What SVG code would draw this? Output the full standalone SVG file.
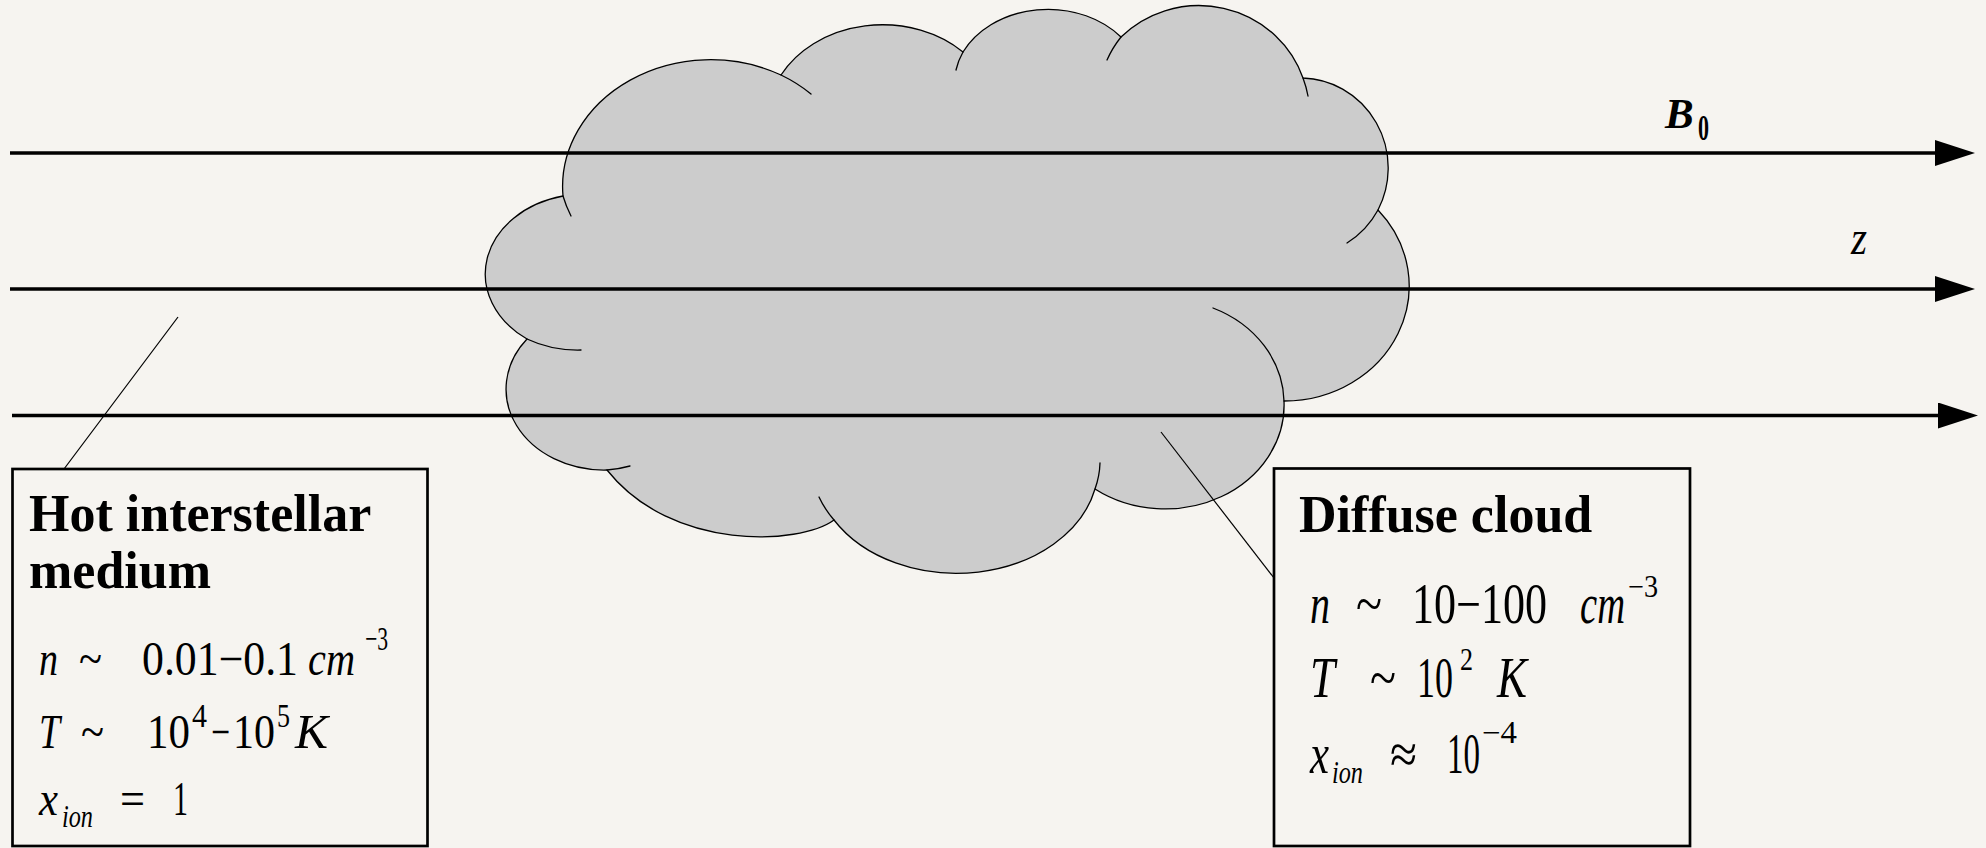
<svg xmlns="http://www.w3.org/2000/svg" width="1986" height="848" viewBox="0 0 1986 848">
  <style>
    .bg { fill: #f6f4f0; }
    .cloud { fill: #cccccc; stroke: #000; stroke-width: 1.3; stroke-linejoin: round; }
    .tail { fill: none; stroke: #000; stroke-width: 1.3; stroke-linecap: round; }
    .field { fill: none; stroke: #000; stroke-width: 3.4; }
    .leader { fill: none; stroke: #000; stroke-width: 1.2; }
    .box { fill: none; stroke: #000; stroke-width: 2.7; }
    text { font-family: "Liberation Serif", "Times New Roman", serif; fill: #000; }
    .hd { font-size: 52px; font-weight: bold; }
    .mi { font-style: italic; }
    .b1 { font-size: 48px; }
    .b2 { font-size: 56px; }
    .s1 { font-size: 34px; }
    .s2 { font-size: 31px; }
  </style>
  <defs>
    <marker id="head" markerUnits="userSpaceOnUse" viewBox="0 0 40 26" markerWidth="40" markerHeight="26" refX="10" refY="13" orient="auto">
      <path d="M0,0 L40,13 L0,26 Z" fill="#000"/>
    </marker>
  </defs>

  <rect class="bg" x="0" y="0" width="1986" height="848"/>

  <!-- diffuse cloud: outer outline made of lobes, plus the short inner lobe arcs -->
  <g id="cloud">
    <path class="cloud" d="M563,196 A148,127 0 0 1 781,75 A115,95 0 0 1 963,52 A95,77 0 0 1 1121,37 A110,107 0 0 1 1303,78 A88,90 0 0 1 1378,210 A125,115 0 0 1 1284,401 A119,104 0 0 1 1095,489 A142,108 0 0 1 834,520 C800,545 672,552 607,470 A98,81 0 0 1 527,339 A100,80 0 0 1 563,196 Z"/>
    <path class="tail" d="M563,196 A148,127 0 0 0 571,216 M781,75 A148,127 0 0 1 811,94 M963,52 A95,77 0 0 0 956,70 M1121,37 A110,107 0 0 0 1107,60 M1303,78 A110,107 0 0 1 1308,96 M1378,210 A88,90 0 0 1 1347,243 M1213,308 A119,104 0 0 1 1284,401 M1100,463 A142,108 0 0 1 1095,489 M834,520 A142,108 0 0 1 819,497 M607,470 A98,81 0 0 0 630,466 M527,339 A100,80 0 0 0 581,350"/>
  </g>

  <!-- magnetic field lines and leader lines -->
  <g id="connectors">
    <path class="field" d="M10,153 H1945" marker-end="url(#head)"/>
    <path class="field" d="M10,289 H1945" marker-end="url(#head)"/>
    <path class="field" d="M12,415.5 H1948" marker-end="url(#head)"/>
    <path class="leader" d="M178,317 L64,469"/>
    <path class="leader" d="M1161,432 L1274,578"/>
  </g>

  <g id="label-B0">
    <text font-weight="bold"><tspan x="1665" y="128" font-size="43" font-style="italic">B</tspan><tspan x="1698" y="140" font-size="36" textLength="11" lengthAdjust="spacingAndGlyphs">0</tspan></text>
  </g>
  <g id="label-z">
    <text class="mi" x="1851" y="254" font-size="48" textLength="16" lengthAdjust="spacingAndGlyphs">z</text>
  </g>

  <!-- hot interstellar medium -->
  <g id="hot-ism">
    <rect class="box" x="12.5" y="469" width="415" height="377"/>
    <text class="hd" x="29" y="531">Hot interstellar</text>
    <text class="hd" x="29" y="588">medium</text>
    <text class="b1"><tspan class="mi" x="39" y="675" textLength="19" lengthAdjust="spacingAndGlyphs">n</tspan><tspan x="79" y="675" textLength="23" lengthAdjust="spacingAndGlyphs">~</tspan><tspan x="142" y="675" textLength="156" lengthAdjust="spacingAndGlyphs">0.01−0.1</tspan><tspan class="mi" x="308" y="675" textLength="47" lengthAdjust="spacingAndGlyphs">cm</tspan><tspan class="s1" x="365" y="650" textLength="23" lengthAdjust="spacingAndGlyphs">−3</tspan></text>
    <text class="b1"><tspan class="mi" x="39" y="748" textLength="21" lengthAdjust="spacingAndGlyphs">T</tspan><tspan x="81" y="748" textLength="23" lengthAdjust="spacingAndGlyphs">~</tspan><tspan x="147" y="748" textLength="43" lengthAdjust="spacingAndGlyphs">10</tspan><tspan class="s1" x="192" y="727" textLength="15" lengthAdjust="spacingAndGlyphs">4</tspan><tspan x="211" y="748" textLength="19" lengthAdjust="spacingAndGlyphs">−</tspan><tspan x="233" y="748" textLength="42" lengthAdjust="spacingAndGlyphs">10</tspan><tspan class="s1" x="277" y="727" textLength="13" lengthAdjust="spacingAndGlyphs">5</tspan><tspan class="mi" x="295" y="748" textLength="33" lengthAdjust="spacingAndGlyphs">K</tspan></text>
    <text class="b1"><tspan class="mi" x="39" y="815" textLength="19" lengthAdjust="spacingAndGlyphs">x</tspan><tspan class="mi" x="62" y="827" font-size="32" textLength="31" lengthAdjust="spacingAndGlyphs">ion</tspan><tspan x="120" y="815" textLength="25" lengthAdjust="spacingAndGlyphs">=</tspan><tspan x="173" y="815" textLength="15" lengthAdjust="spacingAndGlyphs">1</tspan></text>
  </g>

  <!-- diffuse cloud properties -->
  <g id="diffuse-cloud">
    <rect class="box" x="1274" y="468.5" width="416" height="377.5"/>
    <text class="hd" x="1299" y="532">Diffuse cloud</text>
    <text class="b2"><tspan class="mi" x="1310" y="623" textLength="20" lengthAdjust="spacingAndGlyphs">n</tspan><tspan x="1356" y="623" textLength="26" lengthAdjust="spacingAndGlyphs">~</tspan><tspan x="1412" y="623" textLength="135" lengthAdjust="spacingAndGlyphs">10−100</tspan><tspan class="mi" x="1580" y="623" textLength="45" lengthAdjust="spacingAndGlyphs">cm</tspan><tspan class="s2" x="1628" y="597" textLength="30" lengthAdjust="spacingAndGlyphs">−3</tspan></text>
    <text class="b2"><tspan class="mi" x="1310" y="697" textLength="25" lengthAdjust="spacingAndGlyphs">T</tspan><tspan x="1370" y="697" textLength="26" lengthAdjust="spacingAndGlyphs">~</tspan><tspan x="1417" y="697" textLength="36" lengthAdjust="spacingAndGlyphs">10</tspan><tspan class="s2" x="1460" y="670" textLength="13" lengthAdjust="spacingAndGlyphs">2</tspan><tspan class="mi" x="1497" y="697" textLength="30" lengthAdjust="spacingAndGlyphs">K</tspan></text>
    <text class="b2"><tspan class="mi" x="1310" y="773" textLength="19" lengthAdjust="spacingAndGlyphs">x</tspan><tspan class="mi" x="1332" y="783" font-size="32" textLength="31" lengthAdjust="spacingAndGlyphs">ion</tspan><tspan x="1390" y="773" textLength="27" lengthAdjust="spacingAndGlyphs">≈</tspan><tspan x="1447" y="773" textLength="33" lengthAdjust="spacingAndGlyphs">10</tspan><tspan class="s2" x="1482" y="743" textLength="35" lengthAdjust="spacingAndGlyphs">−4</tspan></text>
  </g>
</svg>
